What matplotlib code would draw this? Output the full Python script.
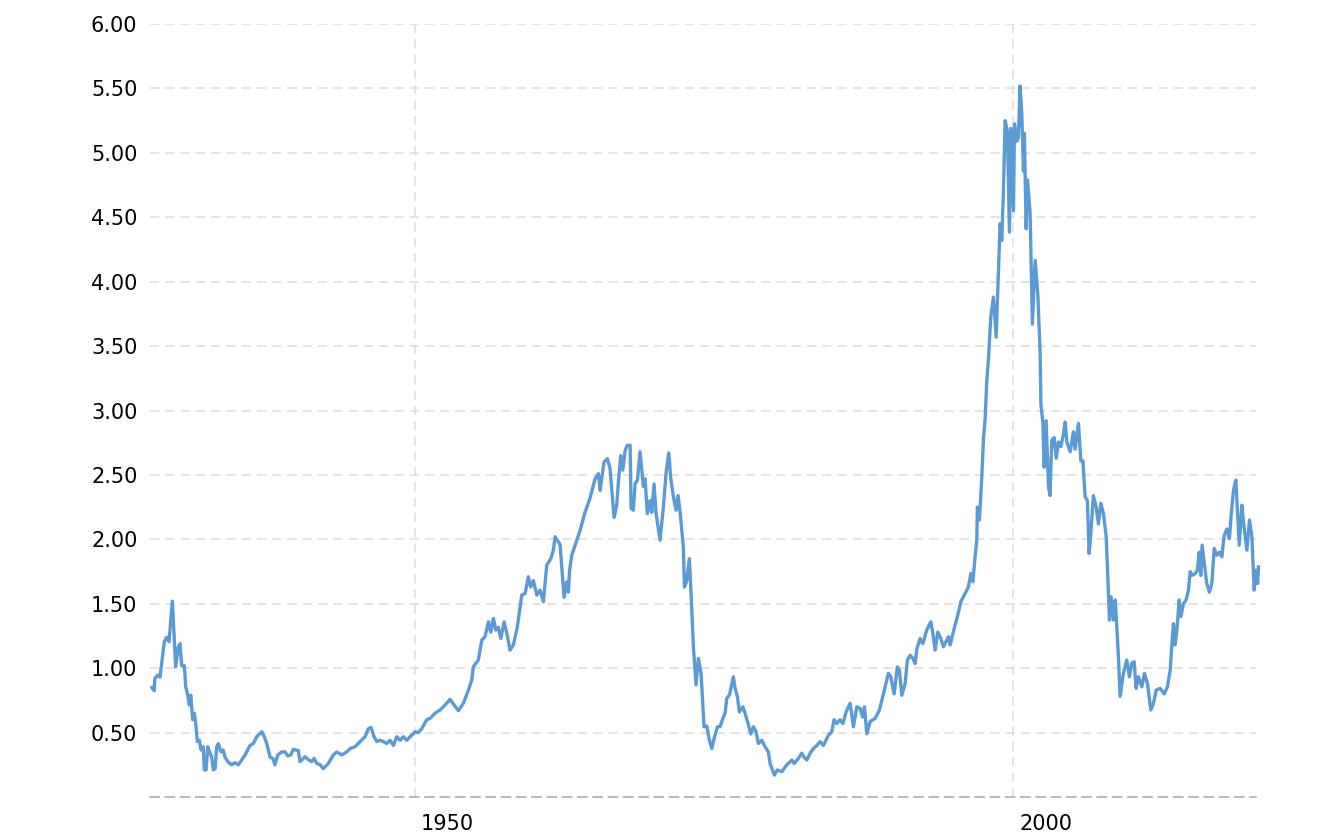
import matplotlib
matplotlib.use("Agg")
import matplotlib.pyplot as plt
import matplotlib.transforms as mtransforms

# ratio series (decimal years)
years = [
    1928.00, 1928.20, 1928.24, 1928.49, 1928.68, 1928.82, 1929.04, 1929.24, 1929.43, 1929.60,
    1929.71, 1929.99, 1930.21, 1930.35, 1930.49, 1930.71, 1930.83, 1931.00, 1931.13, 1931.25,
    1931.41, 1931.55, 1931.66, 1931.80, 1931.97, 1932.11, 1932.30, 1932.38, 1932.53, 1932.67,
    1932.86, 1933.00, 1933.14, 1933.28, 1933.42, 1933.55, 1933.78, 1933.97, 1934.11, 1934.39,
    1934.67, 1934.95, 1935.23, 1935.79, 1936.20, 1936.48, 1936.76, 1937.18, 1937.40, 1937.60,
    1937.88, 1938.10, 1938.29, 1938.52, 1938.85, 1939.13, 1939.36, 1939.61, 1939.82, 1940.24,
    1940.38, 1940.80, 1941.08, 1941.36, 1941.56, 1941.78, 1942.06, 1942.33, 1942.75, 1943.17,
    1943.45, 1943.87, 1944.29, 1944.57, 1944.98, 1945.40, 1945.82, 1946.10, 1946.32, 1946.57,
    1946.80, 1947.07, 1947.35, 1947.63, 1947.91, 1948.19, 1948.47, 1948.75, 1949.02, 1949.31,
    1949.72, 1950.00, 1950.28, 1950.56, 1950.98, 1951.25, 1951.67, 1952.09, 1952.51, 1952.93,
    1953.26, 1953.62, 1954.04, 1954.46, 1954.74, 1954.87, 1955.29, 1955.58, 1955.85, 1956.13,
    1956.33, 1956.55, 1956.75, 1956.96, 1957.17, 1957.44, 1957.67, 1957.94, 1958.22, 1958.55,
    1958.92, 1959.20, 1959.47, 1959.67, 1959.89, 1960.18, 1960.45, 1960.73, 1961.01, 1961.35,
    1961.56, 1961.71, 1962.12, 1962.46, 1962.68, 1962.82, 1962.92, 1963.10, 1963.52, 1963.80,
    1964.21, 1964.63, 1965.05, 1965.33, 1965.47, 1965.80, 1966.08, 1966.30, 1966.64, 1966.86,
    1967.00, 1967.20, 1967.37, 1967.56, 1967.75, 1967.98, 1968.06, 1968.25, 1968.39, 1968.59,
    1968.81, 1969.09, 1969.23, 1969.42, 1969.65, 1969.79, 1969.98, 1970.15, 1970.48, 1970.76,
    1970.99, 1971.21, 1971.38, 1971.60, 1971.82, 1971.99, 1972.16, 1972.43, 1972.52, 1972.72,
    1972.93, 1973.05, 1973.27, 1973.49, 1973.69, 1973.91, 1974.05, 1974.16, 1974.39, 1974.61,
    1974.81, 1975.00, 1975.28, 1975.50, 1975.73, 1975.92, 1976.06, 1976.28, 1976.61, 1976.76,
    1976.95, 1977.11, 1977.40, 1977.59, 1977.87, 1978.07, 1978.29, 1978.51, 1978.70, 1978.99,
    1979.26, 1979.54, 1979.68, 1980.04, 1980.29, 1980.66, 1981.08, 1981.50, 1981.69, 1982.05,
    1982.33, 1982.52, 1982.75, 1983.03, 1983.30, 1983.59, 1983.86, 1984.14, 1984.56, 1984.84,
    1985.03, 1985.26, 1985.53, 1985.76, 1986.04, 1986.37, 1986.65, 1986.93, 1987.21, 1987.43,
    1987.57, 1987.77, 1988.04, 1988.46, 1988.82, 1989.02, 1989.30, 1989.57, 1989.77, 1990.05,
    1990.32, 1990.49, 1990.69, 1990.97, 1991.16, 1991.39, 1991.61, 1991.81, 1991.95, 1992.22,
    1992.45, 1992.78, 1993.12, 1993.29, 1993.48, 1993.70, 1993.95, 1994.17, 1994.46, 1994.59,
    1994.73, 1995.07, 1995.34, 1995.63, 1995.99, 1996.26, 1996.46, 1996.63, 1996.82, 1996.96,
    1997.01, 1997.18, 1997.38, 1997.52, 1997.66, 1997.80, 1997.93, 1998.13, 1998.35, 1998.58,
    1998.91, 1999.05, 1999.19, 1999.33, 1999.52, 1999.69, 1999.81, 2000.03, 2000.11, 2000.31,
    2000.44, 2000.58, 2000.73, 2000.86, 2000.94, 2001.09, 2001.20, 2001.42, 2001.61, 2001.84,
    2002.06, 2002.26, 2002.32, 2002.49, 2002.59, 2002.76, 2002.95, 2003.09, 2003.23, 2003.43,
    2003.60, 2003.79, 2003.99, 2004.21, 2004.35, 2004.49, 2004.77, 2005.04, 2005.18, 2005.46,
    2005.66, 2005.83, 2006.02, 2006.21, 2006.35, 2006.49, 2006.71, 2006.94, 2007.13, 2007.33,
    2007.55, 2007.78, 2007.97, 2008.05, 2008.19, 2008.38, 2008.53, 2008.67, 2008.80, 2008.94,
    2009.22, 2009.50, 2009.72, 2009.92, 2010.12, 2010.28, 2010.48, 2010.76, 2010.98, 2011.23,
    2011.51, 2011.73, 2011.96, 2012.29, 2012.63, 2012.90, 2013.13, 2013.27, 2013.40, 2013.54,
    2013.69, 2013.88, 2014.02, 2014.24, 2014.46, 2014.66, 2014.80, 2014.94, 2015.22, 2015.41,
    2015.55, 2015.69, 2015.80, 2015.99, 2016.19, 2016.41, 2016.61, 2016.81, 2017.03, 2017.25,
    2017.45, 2017.64, 2017.87, 2018.08, 2018.23, 2018.42, 2018.62, 2018.75, 2018.90, 2019.12,
    2019.26, 2019.54, 2019.76, 2019.96, 2020.15, 2020.29, 2020.44, 2020.51,
]
ratio = [
    0.85, 0.825, 0.92, 0.946, 0.93, 1.04, 1.205, 1.24, 1.205, 1.40,
    1.52, 1.01, 1.166, 1.19, 1.02, 1.02, 0.856, 0.79, 0.714, 0.79,
    0.60, 0.65, 0.57, 0.43, 0.44, 0.365, 0.39, 0.21, 0.21, 0.39,
    0.34, 0.31, 0.21, 0.22, 0.39, 0.415, 0.35, 0.365, 0.31, 0.27,
    0.25, 0.266, 0.25, 0.326, 0.40, 0.415, 0.468, 0.506, 0.468, 0.415,
    0.31, 0.30, 0.25, 0.326, 0.35, 0.35, 0.318, 0.326, 0.37, 0.36,
    0.274, 0.313, 0.29, 0.274, 0.30, 0.26, 0.25, 0.22, 0.26, 0.326,
    0.35, 0.326, 0.35, 0.376, 0.39, 0.43, 0.468, 0.53, 0.54, 0.468,
    0.43, 0.44, 0.43, 0.415, 0.44, 0.40, 0.468, 0.44, 0.468, 0.44,
    0.48, 0.506, 0.50, 0.53, 0.60, 0.61, 0.65, 0.675, 0.714, 0.758,
    0.714, 0.67, 0.727, 0.83, 0.908, 1.01, 1.063, 1.218, 1.244, 1.36,
    1.28, 1.386, 1.296, 1.317, 1.23, 1.36, 1.27, 1.14, 1.18, 1.32,
    1.567, 1.58, 1.71, 1.63, 1.68, 1.567, 1.606, 1.515, 1.80, 1.85,
    1.916, 2.02, 1.96, 1.55, 1.67, 1.59, 1.76, 1.877, 1.994, 2.07,
    2.21, 2.32, 2.47, 2.51, 2.38, 2.60, 2.626, 2.55, 2.17, 2.265,
    2.446, 2.65, 2.537, 2.69, 2.73, 2.73, 2.24, 2.226, 2.43, 2.46,
    2.68, 2.41, 2.47, 2.20, 2.30, 2.21, 2.43, 2.20, 1.994, 2.25,
    2.52, 2.67, 2.47, 2.33, 2.226, 2.34, 2.21, 1.94, 1.63, 1.68,
    1.85, 1.63, 1.166, 0.87, 1.076, 0.96, 0.727, 0.545, 0.55, 0.44,
    0.376, 0.455, 0.545, 0.545, 0.61, 0.65, 0.766, 0.79, 0.933, 0.843,
    0.778, 0.66, 0.70, 0.65, 0.56, 0.49, 0.545, 0.506, 0.415, 0.44,
    0.39, 0.35, 0.26, 0.17, 0.21, 0.196, 0.25, 0.287, 0.26, 0.30,
    0.34, 0.31, 0.287, 0.34, 0.376, 0.40, 0.43, 0.40, 0.48, 0.506,
    0.60, 0.57, 0.60, 0.57, 0.66, 0.727, 0.545, 0.70, 0.687, 0.62,
    0.70, 0.49, 0.585, 0.61, 0.675, 0.75, 0.855, 0.96, 0.933, 0.80,
    1.01, 0.985, 0.79, 0.88, 1.063, 1.10, 1.075, 1.036, 1.15, 1.23,
    1.19, 1.296, 1.36, 1.27, 1.14, 1.28, 1.23, 1.166, 1.218, 1.244,
    1.18, 1.307, 1.40, 1.515, 1.58, 1.63, 1.734, 1.67, 1.864, 1.994,
    2.25, 2.15, 2.485, 2.78, 2.936, 3.235, 3.39, 3.726, 3.88, 3.57,
    4.45, 4.32, 4.71, 5.25, 5.17, 4.385, 5.19, 4.55, 5.225, 5.09,
    5.12, 5.52, 5.29, 4.86, 5.15, 4.41, 4.79, 4.53, 3.67, 4.165,
    3.91, 3.44, 3.05, 2.90, 2.56, 2.92, 2.41, 2.34, 2.77, 2.79,
    2.63, 2.755, 2.72, 2.82, 2.91, 2.755, 2.68, 2.835, 2.70, 2.90,
    2.61, 2.61, 2.33, 2.30, 1.89, 2.04, 2.34, 2.25, 2.12, 2.28,
    2.20, 2.02, 1.58, 1.373, 1.554, 1.373, 1.53, 1.32, 1.09, 0.78,
    0.96, 1.063, 0.933, 1.04, 1.05, 0.843, 0.933, 0.855, 0.96, 0.88,
    0.675, 0.727, 0.83, 0.843, 0.80, 0.855, 0.985, 1.18, 1.346, 1.18,
    1.296, 1.53, 1.40, 1.50, 1.53, 1.606, 1.75, 1.72, 1.734, 1.76,
    1.90, 1.72, 1.955, 1.81, 1.656, 1.59, 1.656, 1.93, 1.877, 1.90,
    1.864, 2.03, 2.08, 2.005, 2.19, 2.38, 2.46, 2.226, 1.955, 2.265,
    2.135, 1.916, 2.15, 2.02, 1.606, 1.76, 1.656, 1.786,
]

y_ticks = [0.5, 1.0, 1.5, 2.0, 2.5, 3.0, 3.5, 4.0, 4.5, 5.0, 5.5, 6.0]
x_ticks = [1950, 2000]

fig = plt.figure(figsize=(13.32, 8.4), dpi=100)
ax = fig.add_axes([0.1126, 0.0512, 0.8304, 0.9202])

# the last few months run slightly past the grid, as in the original
ax.plot(years, ratio, color="#5b9bd5", linewidth=2.4, solid_joinstyle="round",
        zorder=3, clip_on=False)

ax.set_xlim(1927.84, 2020.31)
ax.set_ylim(0, 6)
ax.set_yticks(y_ticks)
ax.set_yticklabels([f"{v:.2f}" for v in y_ticks])
ax.set_xticks(x_ticks)
ax.set_xticklabels([str(x) for x in x_ticks])

grid_kw = dict(color="#dcdcdc", linewidth=1.1, linestyle=(0, (6, 4)))
ax.yaxis.grid(True, **grid_kw)
ax.xaxis.grid(True, **grid_kw)
ax.set_axisbelow(True)

for side in ["top", "right", "left"]:
    ax.spines[side].set_visible(False)
ax.spines["bottom"].set_color("#a6a6a6")
ax.spines["bottom"].set_linewidth(1.1)
ax.spines["bottom"].set_linestyle((0, (6, 4)))

ax.tick_params(axis="y", length=0, pad=9, labelsize=15, labelcolor="#000000")
ax.tick_params(axis="x", length=0, pad=12, labelsize=15, labelcolor="#000000")

# year labels sit just right of their gridline
offset = mtransforms.ScaledTranslation(6 / 100, 0, fig.dpi_scale_trans)
for lab in ax.get_xticklabels():
    lab.set_horizontalalignment("left")
    lab.set_transform(lab.get_transform() + offset)

fig.savefig("out.png", dpi=100)
